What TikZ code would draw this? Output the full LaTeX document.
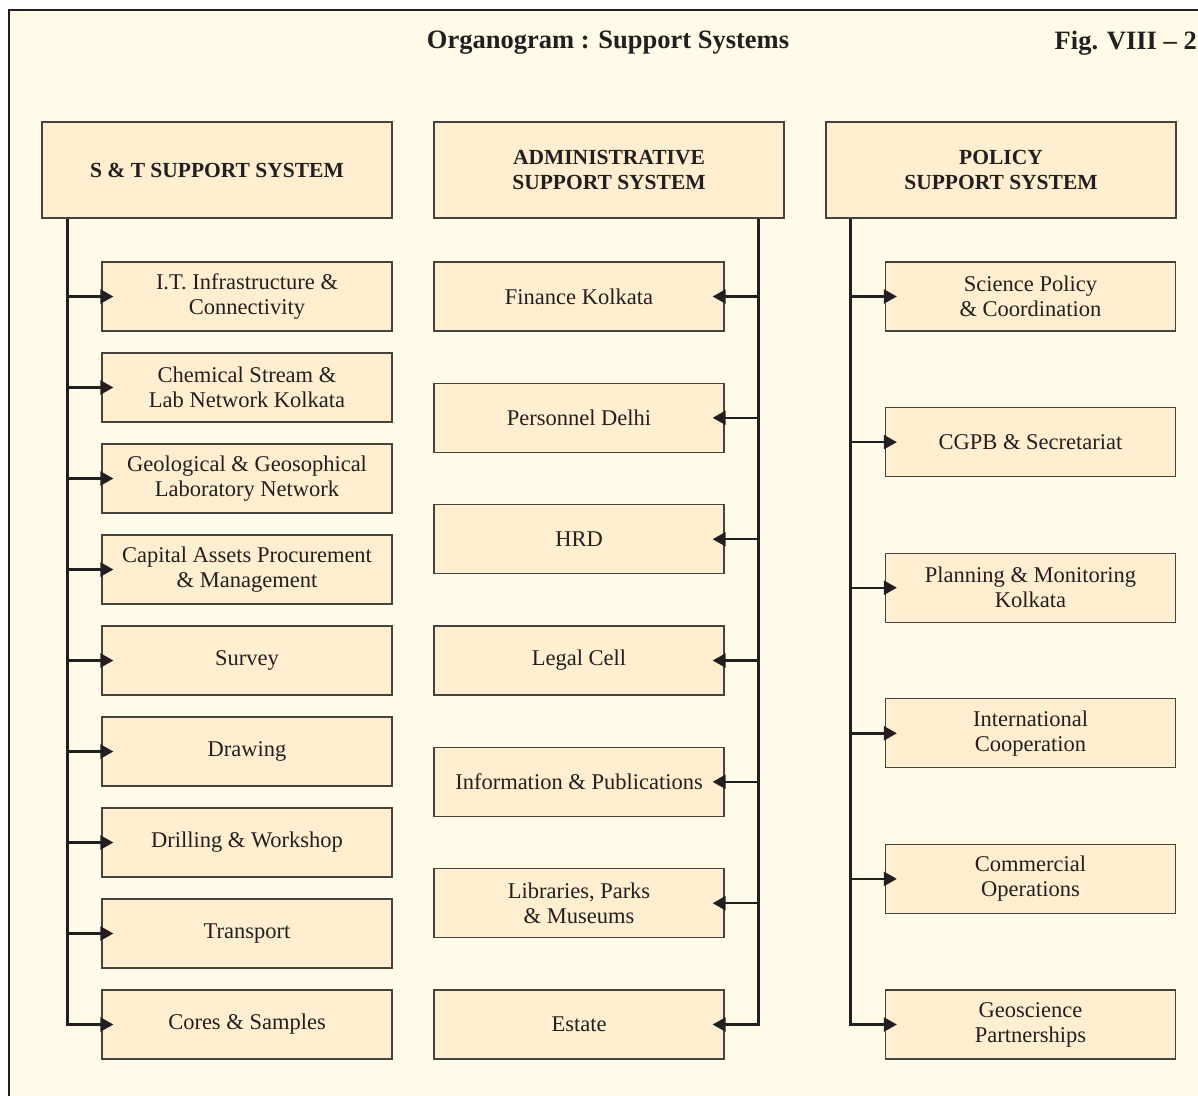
\documentclass[tikz,border=0pt]{standalone}
\usepackage{fontspec}
\setmainfont{Liberation Serif}
\usetikzlibrary{arrows.meta}
\definecolor{bgcream}{RGB}{255,251,232}
\definecolor{boxfill}{RGB}{255,238,207}
\definecolor{boxline}{RGB}{70,66,62}
\definecolor{ink}{RGB}{35,31,32}
\tikzset{
  chartbox/.style={draw=boxline, line width=1.3pt, fill=boxfill, inner sep=0pt,
    minimum width=290pt, minimum height=69pt, align=center, text=ink,
    font=\fontsize{22.5}{25}\selectfont},
  headbox/.style={chartbox, minimum width=350pt, minimum height=96pt,
    font=\fontsize{21.5}{25}\selectfont\bfseries},
  arr/.style={draw=ink, line width=2.4pt, -{Triangle[length=13pt,width=14pt]}},
  titletext/.style={text=ink, font=\fontsize{26.5}{30}\selectfont\bfseries, inner sep=0pt}
}
\begin{document}
\begin{tikzpicture}[x=1pt,y=-1pt]
\useasboundingbox (0,0) rectangle (1198,1095);
\fill[white] (0,0) rectangle (1198,1095);
\fill[bgcream] (9,10) rectangle (1200,1097);
\draw[ink, line width=2.2pt] (9,1097) -- (9,10) -- (1200,10);

\node[titletext] (title) at (608,43) {Organogram : Support Systems};
\node[titletext, anchor=east] (fig) at (1197,43) {Fig. VIII – 2};

% headers
\node[headbox] (st) at (217,170) {S \& T SUPPORT SYSTEM};
\node[headbox] (ad) at (609,170) {ADMINISTRATIVE\\SUPPORT SYSTEM};
\node[headbox] (po) at (1001,170) {POLICY\\SUPPORT SYSTEM};

% S&T children
\node[chartbox] (s1) at (247,296.5) {I.T. Infrastructure \&\\Connectivity};
\node[chartbox] (s2) at (247,387.5) {Chemical Stream \&\\Lab Network Kolkata};
\node[chartbox] (s3) at (247,478.5) {Geological \& Geosophical\\Laboratory Network};
\node[chartbox] (s4) at (247,569.5) {Capital Assets Procurement\\\& Management};
\node[chartbox] (s5) at (247,660.5) {Survey};
\node[chartbox] (s6) at (247,751.5) {Drawing};
\node[chartbox] (s7) at (247,842.5) {Drilling \& Workshop};
\node[chartbox] (s8) at (247,933.5) {Transport};
\node[chartbox] (s9) at (247,1024.5) {Cores \& Samples};

% Administrative children
\node[chartbox] (a1) at (579,296.5) {Finance Kolkata};
\node[chartbox] (a2) at (579,417.8) {Personnel Delhi};
\node[chartbox] (a3) at (579,539.2) {HRD};
\node[chartbox] (a4) at (579,660.5) {Legal Cell};
\node[chartbox] (a5) at (579,781.8) {Information \& Publications};
\node[chartbox] (a6) at (579,903.2) {Libraries, Parks\\\& Museums};
\node[chartbox] (a7) at (579,1024.5) {Estate};

% Policy children
\node[chartbox] (p1) at (1030.5,296.5) {Science Policy\\\& Coordination};
\node[chartbox] (p2) at (1030.5,442.1) {CGPB \& Secretariat};
\node[chartbox] (p3) at (1030.5,587.7) {Planning \& Monitoring\\Kolkata};
\node[chartbox] (p4) at (1030.5,733.3) {International\\Cooperation};
\node[chartbox] (p5) at (1030.5,878.9) {Commercial\\Operations};
\node[chartbox] (p6) at (1030.5,1024.5) {Geoscience\\Partnerships};

% trunks
\coordinate (tS) at ([xshift=26pt]st.south west);
\coordinate (tA) at ([xshift=-26pt]ad.south east);
\coordinate (tP) at ([xshift=25pt]po.south west);

\draw[arr] (tS) |- ([xshift=12pt]s9.west);
\foreach \n in {s1,s2,s3,s4,s5,s6,s7,s8}
  \draw[arr] (tS |- \n.west) -- ([xshift=12pt]\n.west);

\draw[arr] (tA) |- ([xshift=-12pt]a7.east);
\foreach \n in {a1,a2,a3,a4,a5,a6}
  \draw[arr] (tA |- \n.east) -- ([xshift=-12pt]\n.east);

\draw[arr] (tP) |- ([xshift=12pt]p6.west);
\foreach \n in {p1,p2,p3,p4,p5}
  \draw[arr] (tP |- \n.west) -- ([xshift=12pt]\n.west);
\end{tikzpicture}
\end{document}
